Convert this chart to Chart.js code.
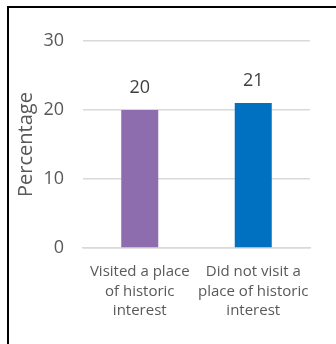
<!DOCTYPE html>
<html lang="en">
<head>
    <meta charset="UTF-8">
    <title>Historic places visit</title>
    <script src="https://cdn.jsdelivr.net/npm/chart.js"></script>
    <style>
        body {
            margin: 0;
            padding: 0;
            background: #fff;
            overflow: hidden;
        }

        .frame {
            position: absolute;
            left: 7px;
            top: 6px;
            width: 400px;
            height: 400px;
            border-left: 2px solid #000;
            border-top: 2px solid #000;
            pointer-events: none;
        }

        canvas {
            position: absolute;
            left: 0;
            top: 0;
        }
    </style>
</head>
<body>
    <canvas id="visitChart" width="336" height="344"></canvas>
    <div class="frame"></div>

    <script>
        // chart data
        const categories = [
            ['Visited a place', 'of historic', 'interest'],
            ['Did not visit a', 'place of historic', 'interest']
        ];
        const percentages = [20, 21];
        const barColours = ['#8E6DAF', '#0070C0'];
        const yTicks = [0, 10, 20, 30];

        // value labels above the bars
        const valueLabels = {
            id: 'valueLabels',
            afterDatasetsDraw(chart) {
                const ctx = chart.ctx;
                const meta = chart.getDatasetMeta(0);
                ctx.save();
                ctx.font = '18px "Open Sans"';
                ctx.fillStyle = '#404040';
                ctx.textAlign = 'center';
                ctx.textBaseline = 'middle';
                meta.data.forEach((bar, i) => {
                    ctx.fillText(percentages[i], bar.x, bar.y - 22);
                });
                ctx.restore();
            }
        };

        const ctx = document.getElementById('visitChart').getContext('2d');
        const visitChart = new Chart(ctx, {
            type: 'bar',
            data: {
                labels: categories,
                datasets: [{
                    data: percentages,
                    backgroundColor: barColours,
                    borderWidth: 0,
                    barPercentage: 0.326,
                    categoryPercentage: 1
                }]
            },
            options: {
                responsive: false,
                animation: false,
                layout: {
                    padding: { top: 41, right: 26, bottom: 0, left: 0 }
                },
                plugins: {
                    legend: { display: false },
                    tooltip: { enabled: false }
                },
                scales: {
                    x: {
                        grid: { display: false, drawTicks: false },
                        border: { color: '#D9D9D9', width: 1.5 },
                        ticks: {
                            color: '#595959',
                            font: { family: 'Open Sans', size: 15, lineHeight: 1.3 },
                            padding: 14,
                            maxRotation: 0,
                            autoSkip: false
                        },
                        afterFit(scale) { scale.height = 96; }
                    },
                    y: {
                        min: 0,
                        max: 30,
                        afterBuildTicks(scale) {
                            scale.ticks = yTicks.map(v => ({ value: v }));
                        },
                        grid: { color: '#D9D9D9', lineWidth: 1.5, drawTicks: false },
                        border: { display: false },
                        ticks: {
                            color: '#595959',
                            font: { family: 'Open Sans', size: 18 },
                            padding: 19
                        },
                        title: {
                            display: true,
                            text: 'Percentage',
                            color: '#595959',
                            font: { family: 'Open Sans', size: 20 },
                            padding: { top: 14, bottom: 0 }
                        },
                        afterFit(scale) { scale.width = 83; }
                    }
                }
            },
            plugins: [valueLabels]
        });
    </script>
</body>
</html>
